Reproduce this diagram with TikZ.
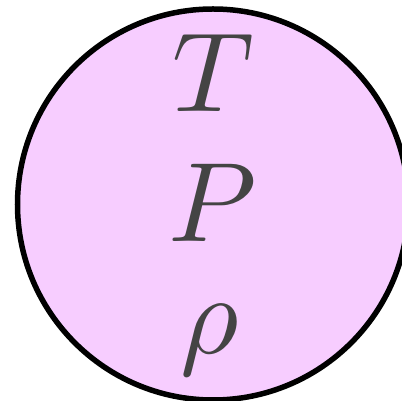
\documentclass[tikz,border=0pt]{standalone}
\definecolor{pinkfill}{RGB}{247,205,255}
\definecolor{txtgray}{RGB}{68,68,68}
\tikzset{
  ball/.style={circle, draw=black, fill=pinkfill, line width=5.5pt, minimum size=391pt, inner sep=0pt},
  var/.style={anchor=base, text=txtgray, inner sep=0pt}
}
\newcommand{\bigvar}[1]{\scalebox{11.3}{$#1$}}
\begin{document}
\begin{tikzpicture}[x=1pt,y=1pt]
\useasboundingbox (0,0) rectangle (402,401);
\clip (0,0) rectangle (402,401);
\node[ball] (b) at (213,196.5) {};
\node[var] (t) at (213,289) {\bigvar{T}};
\node[var] (p) at (213,159) {\bigvar{P}};
\node[var] (r) at (210,47) {\bigvar{\rho}};
\end{tikzpicture}
\end{document}
